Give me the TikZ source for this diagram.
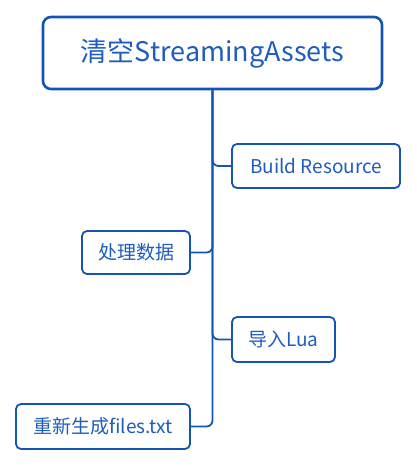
\documentclass[tikz,border=0pt]{standalone}
\usepackage{fontspec}
\setmainfont{Noto Sans CJK SC}
\definecolor{mblue}{RGB}{20,84,178}
\definecolor{tblue}{RGB}{30,92,190}
\begin{document}
\begin{tikzpicture}[x=1pt,y=-1pt,
  box/.style={draw=mblue,text=tblue,rounded corners=5pt,line width=1.8pt,inner sep=0pt,align=center,font=\fontsize{19}{22}\selectfont},
  rootbox/.style={box,line width=2.6pt,rounded corners=8pt,font=\fontsize{27}{31}\selectfont},
  link/.style={draw=mblue,line width=1.8pt,rounded corners=6pt}]
\useasboundingbox (0,0) rectangle (417,466);
\node[rootbox,minimum width=339pt,minimum height=72pt] (root) at (212.5,53) {清空StreamingAssets};
\node[box,minimum width=168pt,minimum height=44pt] (build) at (316,166) {Build Resource};
\node[box,minimum width=108pt,minimum height=43pt] (proc) at (136,252.5) {处理数据};
\node[box,minimum width=103pt,minimum height=45pt] (lua) at (283.5,339.5) {导入Lua};
\node[box,minimum width=174pt,minimum height=45pt] (files) at (103,426.5) {重新生成files.txt};
\draw[link] (root.south) |- (build.west);
\draw[link] (root.south) |- (proc.east);
\draw[link] (root.south) |- (lua.west);
\draw[link] (root.south) |- (files.east);
\end{tikzpicture}
\end{document}
